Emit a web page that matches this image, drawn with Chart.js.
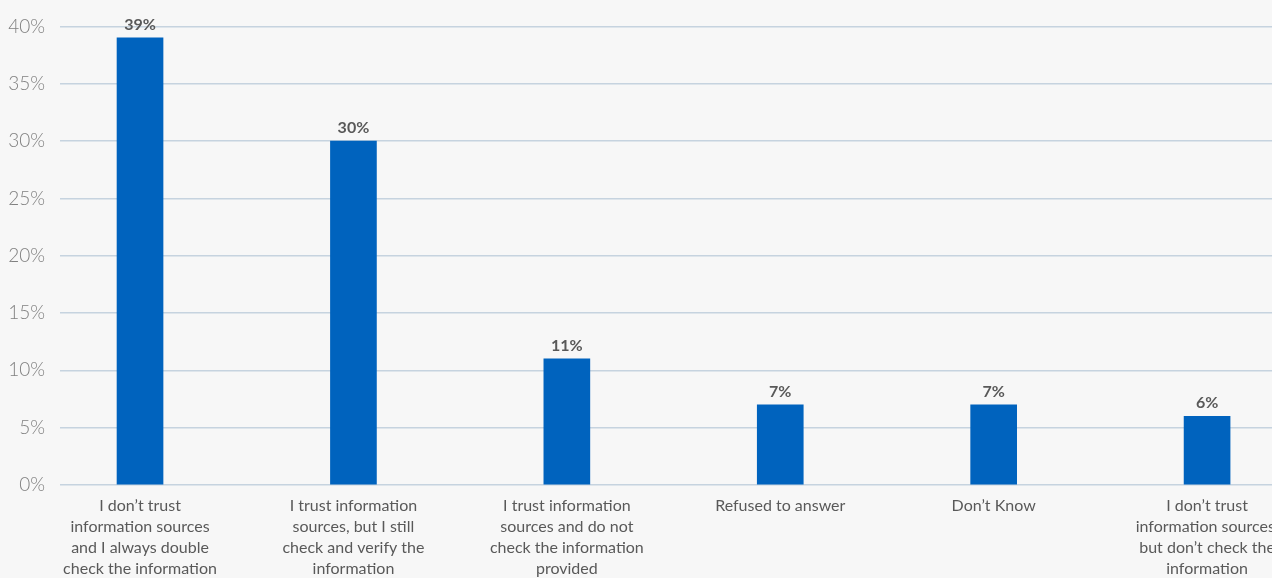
<!DOCTYPE html>
<html>
<head>
<meta charset="utf-8">
<script src="https://cdn.jsdelivr.net/npm/chart.js@4.4.0/dist/chart.umd.min.js"></script>
<style>
html,body{margin:0;padding:0;background:#f7f7f7;overflow:hidden;}
#wrap{width:1330px;height:578px;position:relative;}
</style>
</head>
<body>
<div id="wrap"><canvas id="c"></canvas></div>
<script>
const categories = [
  ["I don\u2019t trust", "information sources", "and I always double", "check the information"],
  ["I trust information", "sources, but I still", "check and verify the", "information"],
  ["I trust information", "sources and do not", "check the information", "provided"],
  ["Refused to answer"],
  ["Don\u2019t Know"],
  ["I don\u2019t trust", "information sources,", "but don\u2019t check the", "information"]
];
const values = [39, 30, 11, 7, 7, 6];
const yTicks = [0, 5, 10, 15, 20, 25, 30, 35, 40];

const labelPlugin = {
  id: 'barLabels',
  afterDatasetsDraw(chart) {
    const ctx = chart.ctx;
    const meta = chart.getDatasetMeta(0);
    ctx.save();
    ctx.font = 'bold 16px Lato, "Open Sans", sans-serif';
    ctx.fillStyle = '#595959';
    ctx.textAlign = 'center';
    ctx.textBaseline = 'alphabetic';
    meta.data.forEach((bar, i) => {
      ctx.fillText(values[i] + '%', bar.x, bar.y - 8);
    });
    ctx.restore();
  }
};

new Chart(document.getElementById('c'), {
  type: 'bar',
  data: {
    datasets: [{
      data: values.map((v, i) => ({x: i, y: v})),
      backgroundColor: '#0063BE',
      barThickness: 46
    }]
  },
  options: {
    responsive: true,
    maintainAspectRatio: false,
    animation: false,
    layout: {padding: {top: 24, left: 0, right: 0, bottom: 0}},
    plugins: {legend: {display: false}, tooltip: {enabled: false}},
    scales: {
      x: {
        type: 'linear',
        offset: false,
        min: -0.375,
        max: 5.576,
        grid: {display: false, drawTicks: false, offset: false},
        border: {display: false},
        afterBuildTicks: s => { s.ticks = categories.map((_, i) => ({value: i})); },
        afterFit: s => { s.height = 93; },
        ticks: {
          autoSkip: false,
          maxRotation: 0,
          padding: 10,
          color: '#595959',
          font: {family: 'Lato, "Open Sans", sans-serif', size: 16, lineHeight: 1.32},
          callback: (v) => categories[v] || ''
        }
      },
      y: {
        min: 0,
        max: 40,
        afterBuildTicks: s => { s.ticks = yTicks.map(v => ({value: v})); },
        afterFit: s => { s.width = 60; },
        grid: {color: '#c6d3df', lineWidth: 1.5, drawTicks: false},
        border: {display: false},
        ticks: {
          padding: 15,
          color: '#808080',
          font: {family: 'Lato, "Open Sans", sans-serif', size: 19, weight: '300'},
          callback: v => v + '%'
        }
      }
    }
  },
  plugins: [labelPlugin]
});
</script>
</body>
</html>
